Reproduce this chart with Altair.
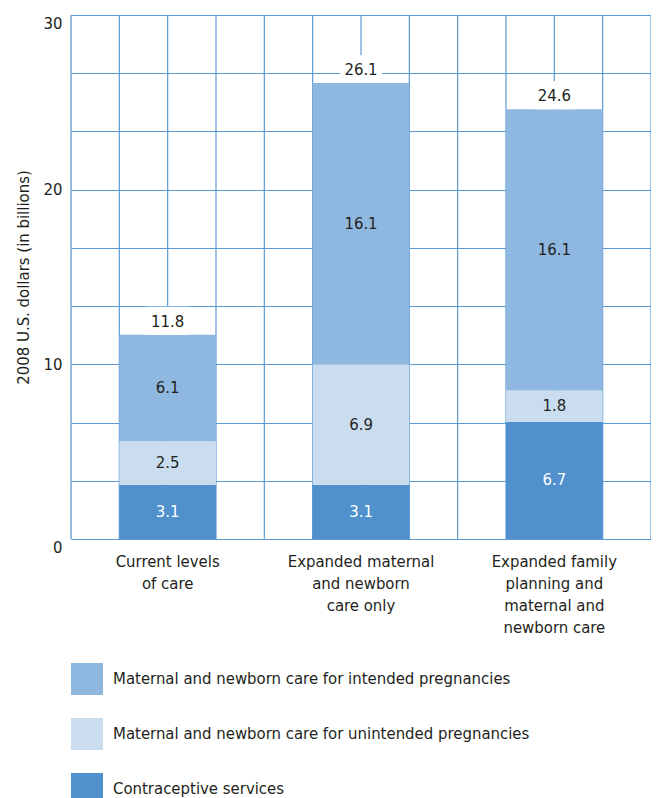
import altair as alt
import pandas as pd

# ---- data ----
categories = [
    "Current levels of care",
    "Expanded maternal and newborn care only",
    "Expanded family planning and maternal and newborn care",
]
category_lines = {
    "Current levels of care": ["Current levels", "of care"],
    "Expanded maternal and newborn care only": ["Expanded maternal", "and newborn", "care only"],
    "Expanded family planning and maternal and newborn care": ["Expanded family", "planning and", "maternal and", "newborn care"],
}
series = [
    "Maternal and newborn care for intended pregnancies",
    "Maternal and newborn care for unintended pregnancies",
    "Contraceptive services",
]
contraceptive = [3.1, 3.1, 6.7]
unintended = [2.5, 6.9, 1.8]
intended = [6.1, 16.1, 16.1]
totals = [11.8, 26.1, 24.6]
grid_steps = 9          # horizontal grid every 30/9 units
grid_columns = 12       # vertical grid columns

colors = ["#8fb8e0", "#c9ddef", "#4f90cd"]
grid_color = "#5b9bd5"
text_color = "#231f20"
FONT = "Liberation Sans Narrow, DejaVu Sans Condensed, Roboto Condensed, Arial Narrow, sans-serif"
FS = 16.6

# ---- tables ----
rows = []
for i, c in enumerate(categories):
    rows.append({"category": c, "series": series[2], "rank": 0, "value": contraceptive[i]})
    rows.append({"category": c, "series": series[1], "rank": 1, "value": unintended[i]})
    rows.append({"category": c, "series": series[0], "rank": 2, "value": intended[i]})
df = pd.DataFrame(rows)

tot = pd.DataFrame({
    "category": categories,
    "total": totals,
    "top": [a + b + c for a, b, c in zip(contraceptive, unintended, intended)],
})
tot["label"] = tot["total"].map(lambda v: f"{v:.1f}")
tot["boxtop"] = tot["top"] + 1.6

vgrid = pd.DataFrame({"col": list(range(grid_columns + 1))})

label_expr = " : ".join(
    f"datum.label == '{k}' ? {v!r}" for k, v in category_lines.items()
) + " : datum.label"

grid_values = [i * 30 / grid_steps for i in range(grid_steps + 1)]

xband = alt.X(
    "category:N",
    sort=categories,
    scale=alt.Scale(paddingInner=0.5, paddingOuter=0.25),
    axis=alt.Axis(
        title=None, labelAngle=0, labelExpr=label_expr, labelFont=FONT,
        labelFontSize=FS, labelColor=text_color, labelLineHeight=22,
        labelPadding=14, ticks=False, domain=False, grid=False, labelLimit=300,
    ),
)
yscale = alt.Scale(domain=[0, 30], nice=False)

base = alt.Chart(df).transform_stack(
    stack="value", groupby=["category"], as_=["y0", "y1"],
    sort=[alt.SortField("rank", order="ascending")],
).transform_calculate(mid="(datum.y0 + datum.y1) / 2")

bars = base.mark_bar().encode(
    x=xband,
    y=alt.Y(
        "y0:Q", scale=yscale,
        axis=alt.Axis(
            title="2008 U.S. dollars (in billions)", values=grid_values,
            labelExpr="datum.value % 10 == 0 ? datum.label : ''",
            labelBaseline={
                "condition": {"test": "datum.value == 30 || datum.value == 0", "value": "top"},
                "value": "middle",
            },
            labelFont=FONT, labelFontSize=FS, labelColor=text_color,
            labelPadding=9, ticks=False, domain=False, grid=True,
            gridColor=grid_color, gridWidth=1.2, gridOpacity=1,
            titleFont=FONT, titleFontSize=FS, titleFontWeight="normal",
            titleColor=text_color, titlePadding=12,
        ),
    ),
    y2="y1:Q",
    color=alt.Color(
        "series:N",
        scale=alt.Scale(domain=series, range=colors),
        legend=alt.Legend(
            title=None, orient="none", legendX=0, legendY=648,
            direction="vertical", symbolType="square", symbolSize=1024,
            symbolStrokeWidth=0, symbolOpacity=1, labelFont=FONT,
            labelFontSize=FS, labelColor=text_color, labelOffset=10,
            rowPadding=23, labelLimit=600, padding=0,
        ),
    ),
)

seg_text = base.mark_text(font=FONT, fontSize=FS, baseline="middle").encode(
    x=alt.X("category:N", sort=categories),
    y=alt.Y("mid:Q", scale=yscale),
    text=alt.Text("value:Q", format=".1f"),
    color=alt.condition(
        alt.datum.series == series[2], alt.value("white"), alt.value(text_color)
    ),
)

box = alt.Chart(tot).mark_bar(color="white", size=42).encode(
    x=alt.X("category:N", sort=categories),
    y=alt.Y("top:Q", scale=yscale),
    y2="boxtop:Q",
)

tot_text = alt.Chart(tot).mark_text(
    font=FONT, fontSize=FS, baseline="middle", dy=-13, color=text_color
).encode(
    x=alt.X("category:N", sort=categories),
    y=alt.Y("top:Q", scale=yscale),
    text="label:N",
)

vlines = alt.Chart(vgrid).mark_rule(color=grid_color, strokeWidth=1.2).encode(
    x=alt.X("col:Q", scale=alt.Scale(domain=[0, grid_columns], nice=False), axis=None),
)

main = alt.layer(bars, box, seg_text, tot_text)

chart = alt.layer(vlines, main).resolve_scale(x="independent").properties(
    width=580, height=524,
    autosize=alt.AutoSizeParams(type="none"),
    padding={"left": 63, "top": 7, "right": 0, "bottom": 262},
).configure_view(stroke=grid_color, strokeWidth=1.2).configure(
    background="white"
)

chart.save("out.html", embed_options={"renderer": "svg", "actions": False})
